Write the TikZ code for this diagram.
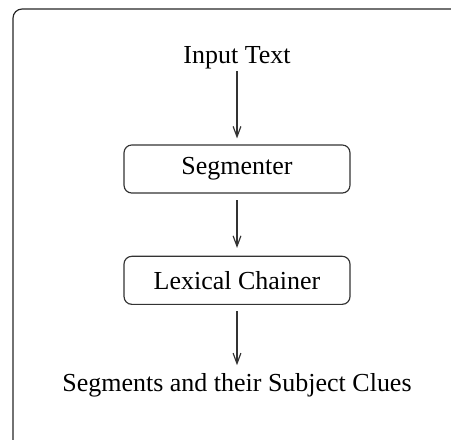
\documentclass[tikz,border=0pt]{standalone}
\usepackage{fontspec}
\setmainfont{Liberation Serif}
\usetikzlibrary{positioning,arrows.meta}

\begin{document}
\begin{tikzpicture}[x=0.385pt,y=-0.385pt,>={Straight Barb[length=4pt,width=3pt]},
  line width=0.45pt,font=\fontsize{10}{12}\selectfont,
  label node/.style={inner sep=0pt},
  stage node/.style={draw=black!80,rounded corners=3pt,minimum width=87pt,minimum height=18.5pt,inner sep=0pt},
  flow/.style={->,draw=black!80,shorten <=2.5pt,shorten >=3pt},
  frame/.style={draw=black!85,rounded corners=3.5pt}]
   \clip (0,0) rectangle (451,439);
   \draw[frame] (13,9) rectangle (480,470);
   \node[label node,anchor=base] (in)  at (237,64)      {Input Text};
   \node[stage node]             (seg) [below=28.6pt of in]  {Segmenter};
   \node[stage node]             (lex) [below=23.9pt of seg] {Lexical Chainer};
   \node[label node]             (out) [below=26.2pt of lex] {Segments and their Subject Clues};
    \draw[flow,shorten <=0.5pt,shorten >=2.3pt] (in) -- (seg);
    \draw[flow] (seg) -- (lex);
    \draw[flow] (lex) -- (out);
\end{tikzpicture}
\end{document}
